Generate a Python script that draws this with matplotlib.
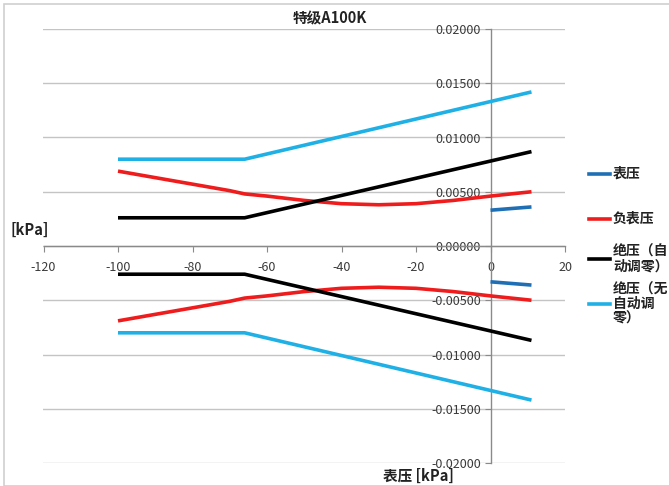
import numpy as np
import matplotlib
matplotlib.use("Agg")
import matplotlib.pyplot as plt
from matplotlib.lines import Line2D
from matplotlib.patches import Rectangle

plt.rcParams['font.family'] = ['Noto Sans CJK SC', 'DejaVu Sans']
plt.rcParams['axes.unicode_minus'] = False

# gauge pressure [kPa] and accuracy band [kPa] for each mode
x_gauge = [0, 11]
gauge = [0.0033, 0.0036]

x_neg = [-100, -90, -80, -70, -66, -60, -50, -40, -30, -20, -10, 0, 11]
neg_gauge = [0.0069, 0.0063, 0.0057, 0.0051, 0.0048, 0.0046, 0.0042,
             0.0039, 0.0038, 0.0039, 0.0042, 0.0046, 0.0050]

x_abs = [-100, -66, 11]
abs_auto = [0.0026, 0.0026, 0.0087]
abs_manual = [0.0080, 0.0080, 0.0142]

labels = ["表压", "负表压", "绝压（自\n动调零）", "绝压（无\n自动调\n零）"]
colors = ["#1f6fb5", "#ee1c1c", "#000000", "#1fb0e6"]

W, H = 669, 486
fig = plt.figure(figsize=(W / 100, H / 100), dpi=100)
ax = fig.add_axes([43.5 / W, 1 - 463 / H, (565 - 43.5) / W, (463 - 29) / H])

series = [(x_gauge, gauge), (x_neg, neg_gauge), (x_abs, abs_auto), (x_abs, abs_manual)]
for (xs, ys), c in zip(series, colors):
    ys = np.array(ys)
    ax.plot(xs, ys, color=c, lw=2.6, solid_capstyle='butt', zorder=3)
    ax.plot(xs, -ys, color=c, lw=2.6, solid_capstyle='butt', zorder=3)

ax.set_xlim(-120, 20)
ax.set_ylim(-0.02, 0.02)
ax.set_xticks(np.arange(-120, 21, 20))
ax.set_yticks(np.arange(-0.02, 0.0201, 0.005))
ax.yaxis.set_major_formatter(matplotlib.ticker.FormatStrFormatter('%.5f'))

ax.spines['top'].set_visible(False)
ax.spines['right'].set_visible(False)
ax.spines['left'].set_position(('data', 0))
ax.spines['bottom'].set_position(('data', 0))
for s in ('left', 'bottom'):
    ax.spines[s].set_color('#8a8a8a')
    ax.spines[s].set_linewidth(1.0)

ax.yaxis.grid(True, color='#c4c4c4', lw=1.0)
ax.set_axisbelow(True)
ax.tick_params(axis='both', colors='#8a8a8a', labelcolor='#3a3a3a', labelsize=9, length=4)
ax.tick_params(axis='x', pad=7)
ax.tick_params(axis='y', pad=3)

fig.text(330 / W, 1 - 18 / H, "特级A100K", ha='center', va='center',
         fontsize=10.5, fontweight='bold', color='#222222')
fig.text(10 / W, 1 - 230 / H, "[kPa]", ha='left', va='center',
         fontsize=10.5, fontweight='bold', color='#222222')
fig.text(418 / W, 1 - 476 / H, "表压 [kPa]", ha='center', va='center',
         fontsize=10.5, fontweight='bold', color='#222222')

# legend entries
leg_y = [174, 219, 259, 304]
for lab, c, yy in zip(labels, colors, leg_y):
    fig.add_artist(Line2D([589 / W, 610 / W], [1 - yy / H, 1 - yy / H],
                          color=c, lw=2.6, transform=fig.transFigure))
    fig.text(613 / W, 1 - yy / H, lab, ha='left', va='center', fontsize=10,
             fontweight='bold', color='#222222', linespacing=1.05)

# chart area border
fig.add_artist(Rectangle((4 / W, 0.5 / H), 1.0, 1 - 4.5 / H, transform=fig.transFigure,
                         fill=False, edgecolor='#d0d0d0', lw=1.2))

fig.savefig("out.png", dpi=100)
